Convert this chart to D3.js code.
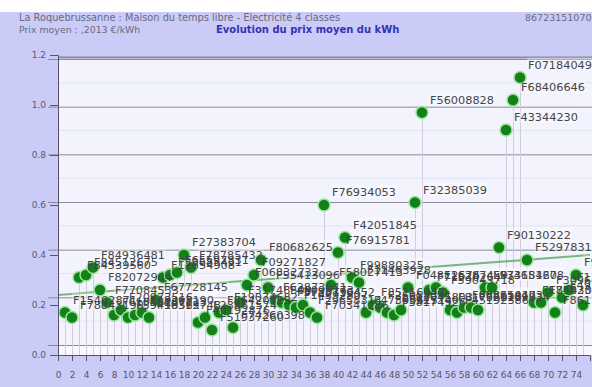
<!DOCTYPE html>
<html><head><meta charset="utf-8">
<script src="https://cdn.jsdelivr.net/npm/d3@7"></script>
<style>body{margin:0;background:#fff}svg{display:block;font-family:"DejaVu Sans",sans-serif}</style>
</head><body><svg id="c" width="592" height="387"></svg>
<script>
const indices = d3.range(1, 76);
const labels = ["F15402871","F78843190","F84539560","F84512675","F84936481","F82072904","F77084533","F61048237","F20973516","F39418562",
"F55107823","F48263190","F90315748","F67728145","F12654908","F33685431","F65597831","F27383704","F78785432","F40192876",
"F23861574","F51937260","F86420315","F19074682","F74260398","F31748509","F06832732","F09271827","F80682625","F55413096",
"F62873041","F48096173","F37281964","F14592807","F83710452","F29658314","F70341286","F76934053","F58027413","F76915781",
"F42051845","F99880325","F11463928","F47390615","F85216047","F26058391","F63927140","F38174926","F92645803","F04812576",
"F32385039","F56008828","F71530264","F16287459","F59043718","F81736025","F45192386","F03861947","F68254103","F21709834",
"F97318460","F34651278","F90130222","F43344230","F68406646","F07184049","F52978316","F18443015","F75023694","F30967152",
"F86135927","F49720381","F13584062","F93857720","F64291805"];
const prices = [0.17,0.15,0.31,0.32,0.35,0.26,0.21,0.16,0.18,0.15,
0.16,0.17,0.15,0.22,0.31,0.32,0.33,0.40,0.35,0.13,
0.15,0.10,0.17,0.18,0.11,0.21,0.28,0.32,0.38,0.27,
0.22,0.21,0.20,0.19,0.20,0.17,0.15,0.60,0.28,0.41,
0.47,0.31,0.29,0.17,0.20,0.19,0.17,0.16,0.18,0.27,
0.61,0.97,0.26,0.27,0.25,0.18,0.17,0.19,0.19,0.18,
0.27,0.27,0.43,0.90,1.02,1.11,0.38,0.21,0.21,0.25,
0.17,0.23,0.26,0.32,0.20];
const trendX = [0, 76];
const trendY = [0.24, 0.40];
const yTicks = [0, 0.2, 0.4, 0.6, 0.8, 1.0, 1.2];
const xTicks = d3.range(0, 76, 2);
const titleLine1 = "La Roquebrussanne : Maison du temps libre - Electricité 4 classes";
const titleLine2 = "Prix moyen : ,2013 €/kWh";
const chartTitle = "Evolution du prix moyen du kWh";
const refCode = "86723151070";

const svg = d3.select("#c");
const x = d3.scaleLinear().domain([0, 76]).range([58, 590]);
const y = d3.scaleLinear().domain([0, 1.2]).range([355, 55]);
const yGrid = d3.scaleLinear().domain([0, 1.2]).range([345, 59]);

svg.append("rect").attr("x",0).attr("y",0).attr("width",592).attr("height",387).attr("fill","#cbcbf8");
svg.append("rect").attr("x",0).attr("y",0).attr("width",592).attr("height",12).attr("fill","#ffffff");
svg.append("rect").attr("x",58).attr("y",57).attr("width",534).attr("height",298).attr("fill","#f2f3fc");
svg.append("rect").attr("x",58).attr("y",345).attr("width",534).attr("height",10).attr("fill","#f8f8ff");

svg.append("g").selectAll("line").data(d3.range(0.1, 1.2, 0.2)).join("line")
  .attr("x1",58).attr("x2",592).attr("y1",d=>yGrid(d)).attr("y2",d=>yGrid(d))
  .attr("stroke","#e2e4f2").attr("stroke-width",1);
svg.append("g").selectAll("line").data(yTicks).join("line")
  .attr("x1",48).attr("x2",592).attr("y1",d=>yGrid(d)+0.5).attr("y2",d=>yGrid(d)+0.5)
  .attr("stroke","#8a8a9c").attr("stroke-width",1);
svg.append("line").attr("x1",58).attr("x2",592).attr("y1",57.5).attr("y2",57.5).attr("stroke","#8888a0").attr("stroke-width",2);

svg.append("g").selectAll("line").data(indices).join("line")
  .attr("x1",(d)=>x(d)+0.5).attr("x2",(d)=>x(d)+0.5)
  .attr("y1",(d,i)=>y(prices[i])).attr("y2",355)
  .attr("stroke","#d4cade").attr("stroke-width",1);

svg.append("line").attr("x1",x(trendX[0])).attr("x2",x(trendX[1]))
  .attr("y1",y(trendY[0])).attr("y2",y(trendY[1]))
  .attr("stroke","#5aa860").attr("stroke-width",2).attr("opacity",0.8);

const lab = svg.append("g");
lab.selectAll("rect").data(indices).join("rect")
  .attr("x",d=>x(d)+7).attr("y",(d,i)=>y(prices[i])-20)
  .attr("width",66).attr("height",13).attr("fill","#ffffff").attr("opacity",0.3);

svg.append("g").selectAll("circle").data(indices).join("circle")
  .attr("cx",d=>x(d)).attr("cy",(d,i)=>y(prices[i])).attr("r",6)
  .attr("fill","#13801a").attr("stroke","#9ae69a").attr("stroke-width",1.5);

svg.append("g").selectAll("text").data(indices).join("text")
  .attr("x",d=>x(d)+8).attr("y",(d,i)=>y(prices[i])-9)
  .attr("font-size",11.3).attr("fill","#444449").text((d,i)=>labels[i]);

const yAx = svg.append("g").attr("transform","translate(58,0)")
  .call(d3.axisLeft(y).tickValues(yTicks).tickFormat(d3.format(".1f")).tickSize(8).tickPadding(4));
yAx.select(".domain").attr("stroke","#555566");
yAx.selectAll(".tick line").attr("stroke","#555566");
yAx.selectAll("text").attr("font-size",9).attr("fill","#5a5a70").attr("font-family","DejaVu Sans");

const xAx = svg.append("g").attr("transform","translate(0,355)")
  .call(d3.axisBottom(x).tickValues(xTicks).tickFormat(d3.format("d")).tickSize(6).tickPadding(11));
xAx.select(".domain").attr("stroke","#555566");
xAx.selectAll(".tick line").attr("stroke","#555566");
xAx.selectAll("text").attr("font-size",9).attr("fill","#55556a").attr("font-family","DejaVu Sans");

svg.append("text").attr("x",19).attr("y",21).attr("font-size",9.8).attr("fill","#6a6a7a").text(titleLine1);
svg.append("text").attr("x",525).attr("y",21).attr("font-size",9.5).attr("fill","#6a6a7a").text(refCode);
svg.append("text").attr("x",19).attr("y",33).attr("font-size",9.4).attr("fill","#6a6a7a").text(titleLine2);
svg.append("text").attr("x",216).attr("y",33).attr("font-size",10).attr("font-weight","bold").attr("fill","#3434b4").text(chartTitle);
</script></body></html>
